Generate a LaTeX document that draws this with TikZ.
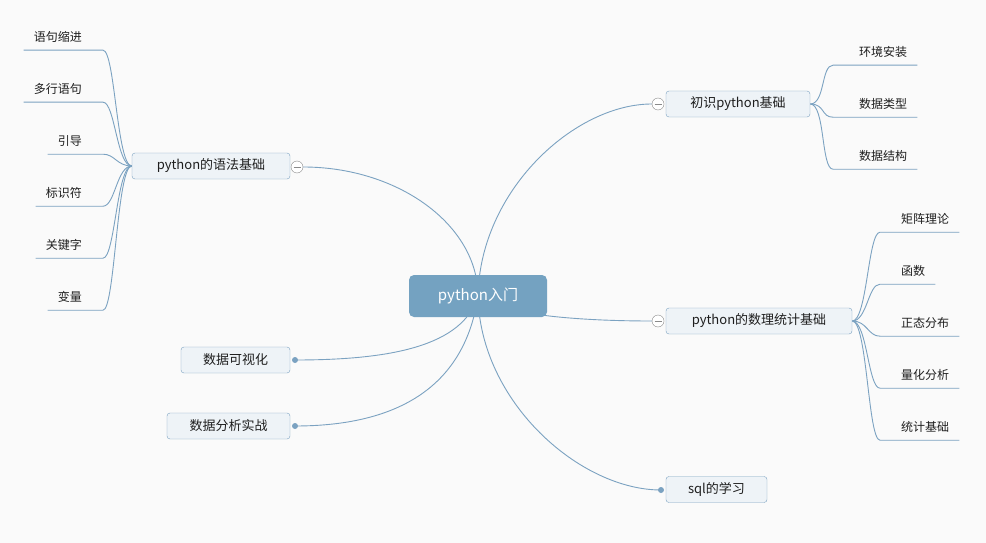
\documentclass[tikz,border=0pt]{standalone}
\usepackage{fontspec}
\newfontfamily\cjk{Noto Sans CJK SC}
\usetikzlibrary{backgrounds}
\definecolor{paperwhite}{HTML}{FAFAFA}
\definecolor{linkblue}{HTML}{7BA2C1}
\definecolor{rootblue}{HTML}{74A2C1}
\definecolor{topicfill}{HTML}{EEF3F7}
\definecolor{foldgray}{HTML}{8A8A8A}
\definecolor{inkblack}{HTML}{1E1E1E}

\begin{document}
\begin{tikzpicture}[x=1pt, y=-1pt,
    rootbox/.style={fill=rootblue, rounded corners=5pt, minimum width=138pt, minimum height=42pt, text=white, font=\cjk\fontsize{15}{18}\selectfont},
    topicbox/.style={draw=linkblue, fill=topicfill, rounded corners=3pt, minimum height=26pt, inner sep=0pt, text=inkblack, font=\cjk\fontsize{13}{16}\selectfont},
    leaf/.style={inner xsep=10pt, inner ysep=0pt, minimum height=26pt, text=inkblack, font=\cjk\fontsize{12}{14}\selectfont},
    fold/.style={circle, draw=foldgray, fill=white, minimum size=12pt, inner sep=0pt,
      path picture={\draw[foldgray] ([xshift=2.5pt]path picture bounding box.west) -- ([xshift=-2.5pt]path picture bounding box.east);}},
    knob/.style={circle, fill=linkblue, minimum size=6pt, inner sep=0pt},
    link/.style={draw=linkblue, line width=0.9pt}]
          % Tema central
          \node[rootbox] (root) at (478,296) {python入门};
          % Ramas principales
          \node[topicbox, minimum width=158pt] (syntax) at (211,166) {python的语法基础};
          \node[fold] (syntax-f) at (297,167) {};
          \node[topicbox, minimum width=144pt] (basic) at (738,104) {初识python基础};
          \node[fold] (basic-f) at (658,104) {};
          \node[topicbox, minimum width=186pt] (stats) at (759,321) {python的数理统计基础};
          \node[fold] (stats-f) at (658,321) {};
          \node[topicbox, minimum width=109pt] (visual) at (235.5,360) {数据可视化};
          \node[knob] (visual-k) at (295,360) {};
          \node[topicbox, minimum width=123pt] (practice) at (228.5,426) {数据分析实战};
          \node[knob] (practice-k) at (295,426) {};
          \node[topicbox, minimum width=101pt] (sql) at (716.5,489.5) {sql的学习};
          \node[knob] (sql-k) at (661,490) {};
          % Hojas
          \foreach \t [count=\i] in {语句缩进, 多行语句, 引导, 标识符, 关键字, 变量}
            \node[leaf, anchor=east] (syntax-\i) at (92,{37+52*(\i-1)}) {\t};
          \foreach \t [count=\i] in {环境安装, 数据类型, 数据结构}
            \node[leaf, anchor=west] (basic-\i) at (849,{52*\i}) {\t};
          \foreach \t [count=\i] in {矩阵理论, 函数, 正态分布, 量化分析, 统计基础}
            \node[leaf, anchor=west] (stats-\i) at (891,{219+52*(\i-1)}) {\t};
          % Conectores
          \begin{scope}[on background layer]
            \fill[paperwhite] (0,0) rectangle (986,543);
            \draw[link] (root.center) .. controls +(0,-71) and +(95,0) .. (syntax-f.east);
            \draw[link] (root.center) .. controls +(2,-106) and +(-77,0) .. (basic-f.west);
            \draw[link] (root.center) .. controls +(22,19) and +(-72,0) .. (stats-f.west);
            \draw[link] (root.center) .. controls +(-15,50) and +(96,0) .. (visual-k.center);
            \draw[link] (root.center) .. controls +(-13,89) and +(105,0) .. (practice-k.center);
            \draw[link] (root.center) .. controls +(2,106) and +(-81,0) .. (sql-k.center);
            \foreach \i in {1,...,6}
              \draw[link] (syntax.west) .. controls +(-15,0) and +(12,0) .. ([xshift=11pt]syntax-\i.south east) -- (syntax-\i.south west);
            \foreach \i in {1,2,3}
              \draw[link] (basic.east) .. controls +(15,0) and +(-12,0) .. ([xshift=-16pt]basic-\i.south west) -- (basic-\i.south east);
            \foreach \i in {1,...,5}
              \draw[link] (stats.east) .. controls +(15,0) and +(-12,0) .. ([xshift=-11pt]stats-\i.south west) -- (stats-\i.south east);
          \end{scope}
        \end{tikzpicture}
\end{document}
